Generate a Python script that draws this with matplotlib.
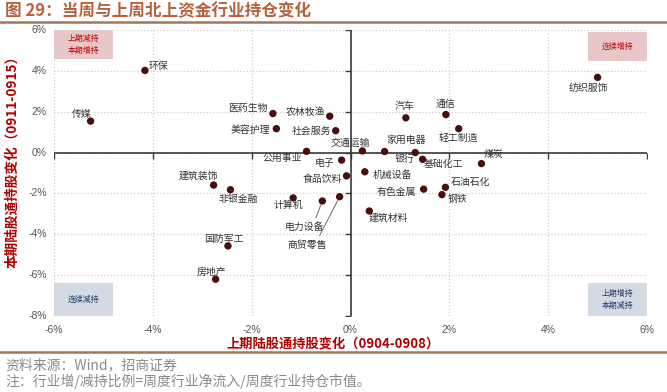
import matplotlib
matplotlib.use("Agg")
import matplotlib.pyplot as plt
import matplotlib.transforms as mtrans
from matplotlib.patches import Rectangle
from matplotlib.lines import Line2D

plt.rcParams['font.family'] = ['Noto Sans CJK SC', 'DejaVu Sans']

# 数据：上期 / 本期 陆股通持股变化 (%)
industries = ['环保', '传媒', '医药生物', '农林牧渔', '美容护理', '社会服务', '公用事业',
              '电子', '食品饮料', '建筑装饰', '非银金融', '计算机', '电力设备', '商贸零售',
              '国防军工', '房地产', '交通运输', '家用电器', '银行', '基础化工', '机械设备',
              '有色金属', '建筑材料', '汽车', '通信', '轻工制造', '煤炭', '石油石化', '钢铁',
              '纺织服饰']
prev_chg = [-4.16, -5.26, -1.57, -0.42, -1.50, -0.30, -0.89,
            -0.18, -0.08, -2.77, -2.43, -1.16, -0.57, -0.22,
            -2.48, -2.73, 0.24, 0.69, 1.31, 1.46, 0.29,
            1.48, 0.38, 1.12, 1.93, 2.19, 2.65, 1.92, 1.85,
            5.00]
curr_chg = [4.02, 1.54, 1.91, 1.78, 1.17, 1.07, 0.06,
            -0.37, -1.14, -1.59, -1.82, -2.22, -2.37, -2.16,
            -4.57, -6.20, 0.08, 0.05, 0.00, -0.33, -0.94,
            -1.79, -2.86, 1.70, 1.86, 1.17, -0.54, -1.70, -2.06,
            3.68]
x_ticks = [-6, -4, -2, 0, 2, 4, 6]
y_ticks = [-8, -6, -4, -2, 0, 2, 4, 6]

# 标签位置 (像素偏移, 水平对齐)
label_pos = {
    '环保': (4, 4, 'left'), '传媒': (-9, 7, 'center'), '医药生物': (-5, 6, 'right'),
    '农林牧渔': (-5, 4, 'right'), '美容护理': (-6, -1, 'right'), '社会服务': (-4, 0, 'right'),
    '公用事业': (-5, -7, 'right'), '电子': (-7, -3, 'right'), '食品饮料': (-4, -3, 'right'),
    '建筑装饰': (-15, 9, 'center'), '非银金融': (8, -9, 'center'), '计算机': (-5, -7, 'center'),
    '国防军工': (-4, 7, 'center'), '房地产': (-4, 7, 'center'), '交通运输': (-12, 8, 'center'),
    '家用电器': (21, 12, 'center'), '银行': (-11, -6, 'center'), '基础化工': (21, -5, 'center'),
    '机械设备': (8, -3, 'left'), '有色金属': (-8, -3, 'right'), '建筑材料': (19, -7, 'center'),
    '汽车': (-1, 12, 'center'), '通信': (0, 11, 'center'), '轻工制造': (0, -9, 'center'),
    '煤炭': (12, 10, 'center'), '石油石化': (5, 5, 'left'), '钢铁': (6, -4, 'left'),
    '纺织服饰': (-9, -11, 'center'),
}
leader_pos = {'电力设备': (-18, -26), '商贸零售': (-32, -48)}

fig = plt.figure(figsize=(6.67, 3.92), dpi=100)
ax = fig.add_axes([54 / 667, 1 - 316 / 392, 593 / 667, 286 / 392])
ax.set_xlim(-6, 6)
ax.set_ylim(-8, 6)
for s in ax.spines.values():
    s.set_visible(False)
ax.set_xticks(x_ticks)
ax.set_yticks(y_ticks)
ax.tick_params(length=0, labelleft=False, labelbottom=False)
ax.grid(True, color='#cfcfcf', linestyle=':', linewidth=0.9)

# 零轴和刻度
ax.axhline(0, color='#3a3a3a', lw=1.2, zorder=2)
ax.axvline(0, color='#3a3a3a', lw=1.2, zorder=2)
for v in x_ticks:
    ax.plot([v], [0], marker=3, color='#3a3a3a', ms=4, mew=1, zorder=2)
for v in y_ticks:
    ax.plot([0], [v], marker=0, color='#3a3a3a', ms=4, mew=1, zorder=2)

tx = mtrans.blended_transform_factory(ax.transData, ax.transAxes)
ty = mtrans.blended_transform_factory(ax.transAxes, ax.transData)
for v in x_ticks:
    ax.text(v, -0.03, f'{v}%', transform=tx, ha='center', va='top', fontsize=7.5,
            family='Liberation Sans', color='#555555')
for v in y_ticks:
    ax.text(-0.012, v, f'{v}%', transform=ty, ha='right', va='center', fontsize=7.5,
            family='Liberation Sans', color='#555555')

# 象限提示框
quads = [((-6, 4.6), '上期减持\n本期增持', '#e8c6c7', '#c00000'),
         ((4.8, 4.5), '连续增持', '#e8c6c7', '#c00000'),
         ((-6, -8), '连续减持', '#d3dae4', '#1f3864'),
         ((4.8, -8), '上期增持\n本期减持', '#d3dae4', '#1f3864')]
for (x0, y0), txt, fc, tc in quads:
    h = 1.4 if y0 > 0 else 1.6
    ax.add_patch(Rectangle((x0, y0), 1.2, h, facecolor=fc, edgecolor='none', zorder=1))
    ax.text(x0 + 0.6, y0 + h / 2, txt, ha='center', va='center', fontsize=5.7,
            color=tc, linespacing=1.5, zorder=3)

ax.scatter(prev_chg, curr_chg, s=28, color='#4a0d0d', zorder=4, edgecolors='none')

for name, xv, yv in zip(industries, prev_chg, curr_chg):
    if name in leader_pos:
        dx, dy = leader_pos[name]
        ax.annotate(name, (xv, yv), xytext=(dx, dy), textcoords='offset pixels',
                    ha='center', va='center', fontsize=7.1, color='#333333',
                    arrowprops=dict(arrowstyle='-', color='#555555', lw=0.6,
                                    relpos=(0.75, 1.0), shrinkA=1, shrinkB=3))
    else:
        dx, dy, ha = label_pos[name]
        ax.annotate(name, (xv, yv), xytext=(dx, dy), textcoords='offset pixels',
                    ha=ha, va='center', fontsize=7.1, color='#333333')

# 标题、轴标签、注释
fig.text(0.008, 1 - 11 / 392, '图 29：当周与上周北上资金行业持仓变化', fontsize=12,
         fontweight='bold', color='#b8623c', va='center', ha='left')
fig.add_artist(Line2D([0, 1], [1 - 22 / 392] * 2, color='#a0785a', lw=1.8))
fig.add_artist(Line2D([0, 1], [1 - 352 / 392] * 2, color='#a0785a', lw=1.8))
fig.text(0.5, 1 - 344 / 392, '上期陆股通持股变化（0904-0908）', fontsize=9.5,
         fontweight='bold', color='#b00000', ha='center', va='center')
fig.text(0.018, 1 - 158 / 392, '本期陆股通持股变化（0911-0915）', fontsize=9.8,
         fontweight='bold', color='#b00000', ha='center', va='center', rotation=90)
fig.text(0.008, 1 - 365 / 392, '资料来源：Wind，招商证券', fontsize=10,
         color='#8a8a8a', ha='left', va='center')
fig.text(0.008, 1 - 381 / 392, '注：行业增/减持比例=周度行业净流入/周度行业持仓市值。', fontsize=10,
         color='#8a8a8a', ha='left', va='center')

fig.savefig('out.png', dpi=100)
